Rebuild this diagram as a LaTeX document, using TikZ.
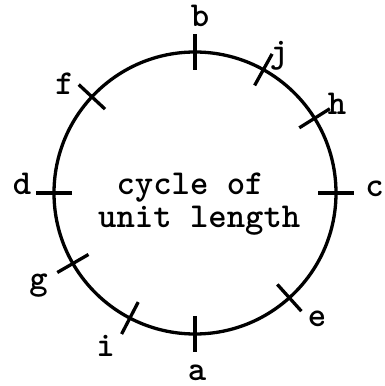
\documentclass[tikz,border=0pt]{standalone}
\usetikzlibrary{calc}
\begin{document}
\begin{tikzpicture}[x=1pt,y=1pt,
  lbl/.style={anchor=base,inner sep=0pt,font=\ttfamily\bfseries\fontsize{35}{40}\selectfont},
  txt/.style={anchor=base west,inner sep=0pt,font=\ttfamily\bfseries\fontsize{35}{40}\selectfont},
  tickmark/.style={line width=3.3pt},
  ring/.style={line width=3.3pt}]
\useasboundingbox (0,0) rectangle (384,386);
\coordinate (C) at (195,193);
\draw[ring] (C) circle (141);
\foreach \ang in {90,270,180,0,137,61,32,210,242.5,312}{
  \draw[tickmark] ($(C)+(\ang:123)$) -- ($(C)+(\ang:159)$);
}
\node[lbl] (b) at (200,359) {b};
\node[lbl] (a) at (197,5.5) {a};
\node[lbl] (d) at (22,191) {d};
\node[lbl] (c) at (374.5,189) {c};
\node[lbl] (j) at (279,323) {j};
\node[lbl] (h) at (337,271) {h};
\node[lbl] (g) at (38.5,96) {g};
\node[lbl] (i) at (105.5,29) {i};
\node[lbl] (e) at (317,59) {e};
\node[lbl] (f) at (64.5,291) {f};
\node[txt] (t1) at (116.4,191) {cycle of};
\node[txt] (t2) at (98,158) {unit length};
\end{tikzpicture}
\end{document}
